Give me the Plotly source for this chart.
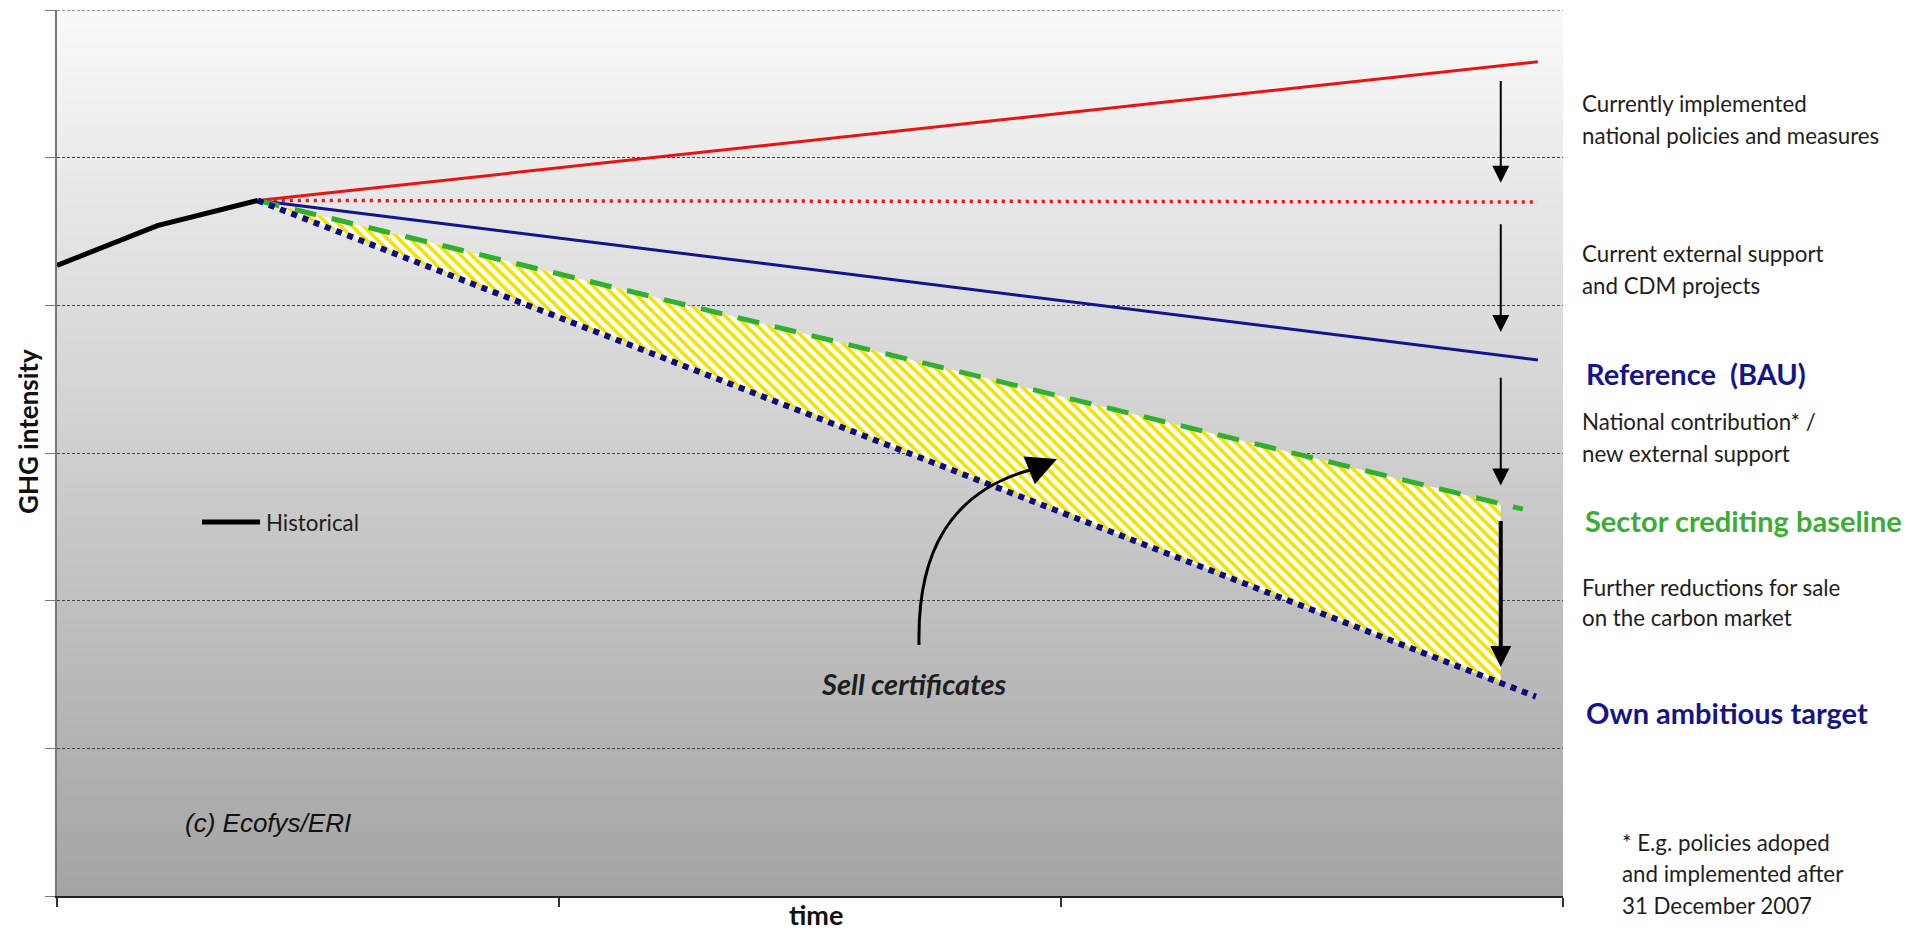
import numpy as np
import plotly.graph_objects as go

# ---------------- data (arbitrary units) ----------------
hist_x = [0, 1, 2]
historical = [4.27, 4.54, 4.71]

proj_x = [2, 14.75]
current_policies = [4.71, 5.65]      # red solid
frozen_level = [4.71, 4.70]          # red dotted
reference_bau = [4.71, 3.63]         # blue solid
target_x = [2, 14.73]
own_target = [4.71, 1.35]            # blue dotted
baseline_x = [2, 14.6]
sector_baseline = [4.71, 2.62]       # green dashed

credit_end_x = 14.38                 # right edge of the hatched area / arrows
arrow_starts = [5.53, 4.56, 3.52, 2.55]
arrow_tips = [4.83, 3.82, 2.78, 1.55]

x_ticks = [0, 5, 10, 15]
y_ticks = [0, 1, 2, 3, 4, 5, 6]

# curved "Sell certificates" arrow (data coordinates): start, ctrl1, ctrl2, end, tip
curve_pts = [(8.586, 1.700), (8.566, 2.326), (8.894, 2.732), (9.691, 2.885)]
curve_tip = (9.960, 2.959)

# ---------------- layout geometry ----------------
W, H = 1907, 933
L, R, T, B = 57, 344, 10, 37
PW, PH = W - L - R, H - T - B


def px(x):
    return (x - L) / PW


def py(y):
    return (H - B - y) / PH


FONT = "Lato, 'Open Sans', sans-serif"
NAVY = "#15158a"
GREEN = "#3aad35"
TXT = "#1e1e1e"
NORMAL = 22.3
BOLD = 29

fig = go.Figure()

# hatched crediting area between sector baseline and own target
top_end = float(np.interp(credit_end_x, baseline_x, sector_baseline))
bot_end = float(np.interp(credit_end_x, target_x, own_target))
fill_x = [baseline_x[0], credit_end_x, credit_end_x, target_x[0]]
fill_y = [sector_baseline[0], top_end, bot_end, own_target[0]]
fig.add_trace(go.Scatter(
    x=fill_x, y=fill_y, mode="lines", fill="toself",
    line=dict(width=0), fillcolor="white",
    fillpattern=dict(shape="\\", fgcolor="#f2e200", bgcolor="white",
                     size=8, solidity=0.45, fillmode="replace"),
    hoverinfo="skip", showlegend=False))

fig.add_trace(go.Scatter(x=proj_x, y=current_policies, mode="lines",
                         line=dict(color="#ee1111", width=3), showlegend=False))
fig.add_trace(go.Scatter(x=proj_x, y=frozen_level, mode="lines",
                         line=dict(color="#ee1111", width=3.5, dash="3px,5px"), showlegend=False))
fig.add_trace(go.Scatter(x=proj_x, y=reference_bau, mode="lines",
                         line=dict(color="#14148f", width=3), showlegend=False))
fig.add_trace(go.Scatter(x=baseline_x, y=sector_baseline, mode="lines",
                         line=dict(color="#2fb02f", width=5, dash="22px,16px"), showlegend=False))
fig.add_trace(go.Scatter(x=target_x, y=own_target, mode="lines",
                         line=dict(color="#0c0c80", width=6, dash="6px,6px"), showlegend=False))
fig.add_trace(go.Scatter(x=hist_x, y=historical, mode="lines", name="Historical",
                         line=dict(color="black", width=5), showlegend=False))

# ---------------- background gradient ----------------
shapes = []
n = 150
for i in range(n):
    t = (i + 0.5) / n           # 0 at top, 1 at bottom
    v = int(round(249 - 85 * t))
    shapes.append(dict(type="rect", xref="x domain", yref="y domain",
                       x0=0, x1=1, y0=max(0.0, 1 - (i + 1) / n - 0.004), y1=1 - i / n,
                       fillcolor=f"rgb({v},{v},{v})", line=dict(width=0),
                       layer="below"))

# top dashed gridline (at the edge of the plot area)
shapes.append(dict(type="line", xref="x domain", yref="y", x0=0, x1=1,
                   y0=y_ticks[-1], y1=y_ticks[-1],
                   line=dict(color="#444", width=1.2, dash="3px,2px")))
shapes.append(dict(type="line", xref="paper", yref="y", x0=px(47), x1=0,
                   y0=y_ticks[-1], y1=y_ticks[-1],
                   line=dict(color="#777", width=1)))

# legend line "Historical"
shapes.append(dict(type="line", xref="paper", yref="paper",
                   x0=px(202), x1=px(260), y0=py(522), y1=py(522),
                   line=dict(color="black", width=5)))

# curved arrow body
(p0, p1, p2, p3) = curve_pts
shapes.append(dict(type="path", xref="x", yref="y",
                   path=f"M {p0[0]},{p0[1]} C {p1[0]},{p1[1]} {p2[0]},{p2[1]} {p3[0]},{p3[1]}",
                   line=dict(color="black", width=3)))

annotations = []

# vertical arrows
for i, (s, e) in enumerate(zip(arrow_starts, arrow_tips)):
    bold = i == 3
    annotations.append(dict(
        x=credit_end_x, y=e, ax=credit_end_x, ay=s,
        xref="x", yref="y", axref="x", ayref="y", text="",
        showarrow=True, arrowhead=2, arrowcolor="black",
        arrowwidth=4 if bold else 2, arrowsize=1.05 if bold else 1.7,
        standoff=0, startstandoff=0))

# curved arrow head
annotations.append(dict(
    x=curve_tip[0], y=curve_tip[1], ax=p3[0], ay=p3[1],
    xref="x", yref="y", axref="x", ayref="y", text="",
    showarrow=True, arrowhead=2, arrowcolor="black",
    arrowwidth=3, arrowsize=2.0, standoff=0))


def label(text, xpx, ypx, size=NORMAL, color=TXT, family=FONT, anchor="left",
          yanchor="middle"):
    annotations.append(dict(
        text=text, x=px(xpx), y=py(ypx), xref="paper", yref="paper",
        xanchor=anchor, yanchor=yanchor, showarrow=False,
        font=dict(family=family, size=size, color=color)))


label("Currently implemented", 1580, 103)
label("national policies and measures", 1580, 135)
label("Current external support", 1580, 253)
label("and CDM projects", 1580, 285)
label("<b>Reference\u00a0 (BAU)</b>", 1584, 373, size=BOLD, color=NAVY)
label("National contribution* /", 1580, 422)
label("new external support", 1580, 453)
label("<b>Sector crediting baseline</b>", 1583, 520, size=BOLD, color=GREEN)
label("Further reductions for sale", 1580, 587)
label("on the carbon market", 1580, 617)
label("<b>Own ambitious target</b>", 1584, 712, size=BOLD, color=NAVY)
label("* E.g. policies adoped", 1620, 842)
label("and implemented after", 1620, 873)
label("31 December 2007", 1620, 905)

label("Historical", 264, 522)
label("<b><i>Sell certificates</i></b>", 914, 683, size=29, anchor="center")
label("<i>(c) Ecofys/ERI</i>", 183, 823, size=26,
      family="'Liberation Sans', Arial, sans-serif", color="#111")
label("<b>time</b>", 816, 933, size=27, anchor="center", color="#111",
      yanchor="bottom")

annotations.append(dict(
    text="<b>GHG intensity</b>", x=px(28), y=py(432), xref="paper", yref="paper",
    xanchor="center", yanchor="middle", showarrow=False, textangle=-90,
    font=dict(family=FONT, size=26, color="#111")))

fig.update_layout(
    width=W, height=H,
    margin=dict(l=L, r=R, t=T, b=B, pad=0),
    paper_bgcolor="white", plot_bgcolor="white",
    shapes=shapes, annotations=annotations,
    showlegend=False,
    xaxis=dict(range=[0, 15], tickvals=x_ticks, showticklabels=False,
               ticks="outside", ticklen=9, tickcolor="#333", tickwidth=1.5,
               showgrid=False, zeroline=False, showline=True,
               linecolor="#222", linewidth=1.5, fixedrange=True),
    yaxis=dict(range=[0, 6], tickvals=y_ticks, showticklabels=False,
               ticks="outside", ticklen=10, tickcolor="#777", tickwidth=1,
               showgrid=True, gridcolor="#444", gridwidth=1.2, griddash="3px,2px",
               zeroline=False, showline=True, linecolor="#777", linewidth=1.5,
               fixedrange=True),
)

fig.write_html("out.html",
               config={"displayModeBar": False},
               post_script="document.body.style.margin='0';"
                           "document.body.style.overflow='hidden';")
